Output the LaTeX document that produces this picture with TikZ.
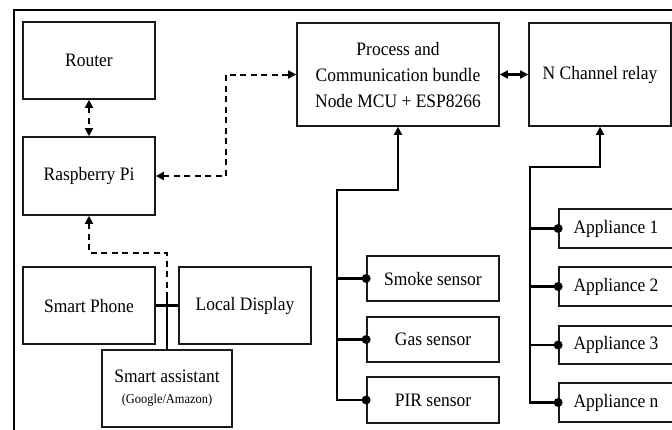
\documentclass[tikz,border=0pt]{standalone}
\usepackage{fontspec}
\setmainfont{Liberation Serif}[FakeStretch=0.92]
\usetikzlibrary{arrows.meta}
\begin{document}
\begin{tikzpicture}[x=1pt,y=-1pt,
  box/.style={draw=black!90,line width=1.7pt,inner sep=0pt,align=center,font=\fontsize{19}{26}\selectfont},
  conn/.style={line width=2.2pt,draw=black},
  dconn/.style={line width=2pt,draw=black,dash pattern=on 6pt off 4.5pt},
  tip/.style={-{Triangle[length=8pt,width=8pt]}},
  tips/.style={{Triangle[length=8pt,width=8pt]}-{Triangle[length=8pt,width=8pt]}},
  dotc/.style={circle,fill=black,inner sep=0pt,minimum size=9pt}]
\useasboundingbox (0,0) rectangle (672,429);
\clip (0,0) rectangle (672,429);
\fill[white] (0,0) rectangle (672,429);
\draw[line width=2.4pt] (14,10) rectangle (690,445);
% boxes
\node[box,minimum width=132pt,minimum height=77pt] (router) at (89,60.5) {Router};
\node[box,minimum width=132pt,minimum height=78pt] (rpi) at (89,176) {Raspberry Pi};
\node[box,minimum width=202pt,minimum height=103pt] (proc) at (398,74.5) {Process and\\Communication bundle\\Node MCU + ESP8266};
\node[box,minimum width=142pt,minimum height=103pt] (relay) at (600,74.5) {N Channel relay};
\node[box,minimum width=132pt,minimum height=77pt] (phone) at (89,305.5) {Smart Phone};
\node[box,minimum width=132pt,minimum height=77pt] (disp) at (245,305.5) {Local Display};
\node[box,minimum width=130pt,minimum height=77pt] (assist) at (167,388.5) {Smart assistant\\[-5pt]{\fontsize{13.5}{15}\selectfont (Google/Amazon)}};
\node[box,minimum width=132pt,minimum height=45pt] (smoke) at (433,278.5) {Smoke sensor};
\node[box,minimum width=132pt,minimum height=45pt] (gas) at (433,339.5) {Gas sensor};
\node[box,minimum width=132pt,minimum height=46pt] (pir) at (433,400) {PIR sensor};
\node[box,minimum width=114pt,minimum height=39pt] (app1) at (616,228.5) {Appliance 1};
\node[box,minimum width=114pt,minimum height=39pt] (app2) at (616,286.5) {Appliance 2};
\node[box,minimum width=114pt,minimum height=38pt] (app3) at (616,345) {Appliance 3};
\node[box,minimum width=114pt,minimum height=39pt] (appn) at (616,402.5) {Appliance n};
% coordinates
\coordinate (rk) at (226,176);
\coordinate (sb) at (337,190);
\coordinate (ab) at (530,167);
\coordinate (cj) at (167,298);
\coordinate (dk) at (167,253);
% dashed connectors
\draw[dconn,tips] (router.south) -- (rpi.north);
\draw[dconn,tips] (rpi.east) -- (rk) |- (proc.west);
\draw[dconn,tip] (cj) -- (dk) -| (rpi.south);
% solid connectors
\draw[conn,tips] (proc.east) -- (relay.west);
\draw[conn] (phone.east) -- (disp.west);
\draw[conn] (assist.north) -- (cj);
\draw[conn,tip] (pir.west) -| (sb) -| (proc.south);
\draw[conn] (smoke.west) -- (smoke.west -| sb);
\draw[conn] (gas.west) -- (gas.west -| sb);
\draw[conn,tip] (appn.west) -| (ab) -| (relay.south);
\draw[conn] (app1.west) -- (app1.west -| ab);
\draw[conn] (app2.west) -- (app2.west -| ab);
\draw[conn] (app3.west) -- (app3.west -| ab);
% dots
\foreach \n in {smoke,gas,pir,app1,app2,app3,appn}
  \node[dotc] (dot-\n) at (\n.west) {};
\end{tikzpicture}
\end{document}
